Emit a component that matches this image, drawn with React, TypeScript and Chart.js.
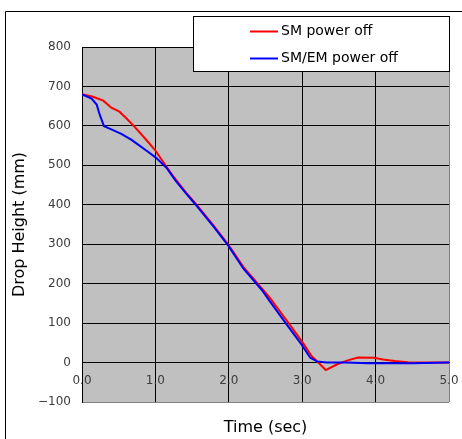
import React, { useEffect, useRef } from "react";
import { Chart, registerables } from "chart.js";

Chart.register(...registerables);

const SM_TIME = [0, 0.15, 0.29, 0.4, 0.51, 0.6, 0.72, 0.85, 0.99, 1.13, 1.26, 1.42, 1.54, 1.79, 1.99, 2.2, 2.45, 2.56, 2.83, 3.01, 3.13, 3.22, 3.32, 3.47, 3.61, 3.76, 3.98, 4.1, 4.26, 4.44, 4.6, 5.0];
const SM_HEIGHT = [680, 674, 664, 646, 636, 620, 597, 570, 540, 502, 468, 430, 405, 348, 300, 242, 188, 164, 96, 50, 16, 0, -19, -5, 5, 13, 12, 8, 4, 1, 0, 0];

const SMEM_TIME = [0, 0.13, 0.2, 0.24, 0.3, 0.4, 0.535, 0.67, 0.76, 0.88, 1.01, 1.15, 1.28, 1.42, 1.54, 1.79, 1.99, 2.2, 2.45, 2.56, 2.79, 2.99, 3.11, 3.2, 3.33, 3.6, 3.9, 4.5, 5.0];
const SMEM_HEIGHT = [680, 669, 654, 629, 599, 591, 580, 565, 553, 537, 519, 494, 460, 428, 402, 345, 297, 238, 184, 155, 96, 46, 12, 3, 0, 0, -2, -2, 0];

const SERIES_LABELS = ["SM power off", "SM/EM power off"];
const SERIES_COLORS = ["#FF0000", "#0000FF"];

const X_MIN = 0;
const X_MAX = 5;
const X_STEP = 1;
const Y_MIN = -100;
const Y_MAX = 800;
const Y_STEP = 100;

const X_TITLE = "Time (sec)";
const Y_TITLE = "Drop Height (mm)";

const FONT = "'DejaVu Sans', sans-serif";

const toPoints = (xs: number[], ys: number[]) => xs.map((x, i) => ({ x, y: ys[i] }));

const backgroundPlugin = {
  id: "bgFrame",
  beforeDraw(chart: any) {
    const { ctx, chartArea, width, height } = chart;
    ctx.save();
    ctx.fillStyle = "#FFFFFF";
    ctx.fillRect(0, 0, width, height);
    ctx.strokeStyle = "#000000";
    ctx.lineWidth = 1;
    ctx.beginPath();
    ctx.moveTo(5.5, height);
    ctx.lineTo(5.5, 11.5);
    ctx.lineTo(width, 11.5);
    ctx.stroke();
    ctx.fillStyle = "#C0C0C0";
    ctx.fillRect(chartArea.left, chartArea.top, chartArea.right - chartArea.left, chartArea.bottom - chartArea.top);
    ctx.restore();
  },
};

const legendPlugin = {
  id: "boxLegend",
  afterDraw(chart: any) {
    const { ctx } = chart;
    const ds = chart.data.datasets;
    ctx.save();
    ctx.fillStyle = "#FFFFFF";
    ctx.fillRect(193.5, 16.5, 256, 55);
    ctx.strokeStyle = "#000000";
    ctx.lineWidth = 1;
    ctx.strokeRect(193.5, 16.5, 256, 55);
    ctx.font = `14px ${FONT}`;
    ctx.textBaseline = "middle";
    ctx.textAlign = "left";
    ds.forEach((d: any, i: number) => {
      const y = 31.5 + i * 27;
      ctx.strokeStyle = d.borderColor;
      ctx.lineWidth = 2;
      ctx.beginPath();
      ctx.moveTo(250, y);
      ctx.lineTo(278, y);
      ctx.stroke();
      ctx.fillStyle = "#000000";
      ctx.fillText(d.label, 281, y);
    });
    ctx.restore();
  },
};

export default function App() {
  const canvasRef = useRef<HTMLCanvasElement | null>(null);

  useEffect(() => {
    if (!canvasRef.current) return;
    const chart = new Chart(canvasRef.current, {
      type: "line",
      data: {
        datasets: [
          {
            label: SERIES_LABELS[0],
            data: toPoints(SM_TIME, SM_HEIGHT),
            borderColor: SERIES_COLORS[0],
            backgroundColor: SERIES_COLORS[0],
            borderWidth: 2,
            pointRadius: 0,
            tension: 0,
            order: 1,
          },
          {
            label: SERIES_LABELS[1],
            data: toPoints(SMEM_TIME, SMEM_HEIGHT),
            borderColor: SERIES_COLORS[1],
            backgroundColor: SERIES_COLORS[1],
            borderWidth: 2,
            pointRadius: 0,
            tension: 0,
            order: 0,
          },
        ],
      },
      options: {
        animation: false,
        responsive: false,
        devicePixelRatio: 1,
        layout: { padding: { top: 47, right: 13, bottom: 0, left: 0 } },
        plugins: {
          legend: { display: false },
          tooltip: { enabled: false },
          title: {
            display: true,
            text: X_TITLE,
            position: "bottom",
            fullSize: false,
            color: "#000000",
            font: { family: FONT, size: 16, weight: "normal" },
            padding: { top: 16.4, bottom: 1.4 },
          },
        },
        scales: {
          x: {
            type: "linear",
            position: { y: 0 } as any,
            min: X_MIN,
            max: X_MAX,
            afterFit: (scale: any) => {
              scale.paddingLeft = 0;
              scale.paddingRight = 0;
            },
            ticks: {
              stepSize: X_STEP,
              padding: 11,
              color: "#3c3c3c",
              font: { family: FONT, size: 12 },
              callback: (v: any) => Number(v).toFixed(1),
            },
            grid: {
              drawTicks: false,
              color: (c: any) => (c.tick && c.tick.value === X_MAX ? "#808080" : "#000000"),
              lineWidth: 1,
            },
            border: { display: true, color: "#000000", width: 1 },
          },
          y: {
            type: "linear",
            position: "left",
            min: Y_MIN,
            max: Y_MAX,
            afterFit: (scale: any) => {
              scale.width = 82;
              scale.paddingTop = 0;
              scale.paddingBottom = 0;
            },
            ticks: {
              stepSize: Y_STEP,
              padding: 11,
              color: "#3c3c3c",
              font: { family: FONT, size: 12 },
              callback: (v: any) => (Number(v) < 0 ? "\u2212" + Math.abs(Number(v)) : String(v)),
            },
            grid: {
              drawTicks: false,
              color: (c: any) => (c.tick && c.tick.value === Y_MIN ? "#808080" : "#000000"),
              lineWidth: 1,
            },
            border: { display: true, color: "#000000", width: 1 },
            title: {
              display: true,
              text: Y_TITLE,
              color: "#000000",
              font: { family: FONT, size: 16 },
              padding: { top: 10.4, bottom: 0 },
            },
          },
        },
      },
      plugins: [backgroundPlugin, legendPlugin],
    } as any);
    return () => chart.destroy();
  }, []);

  return (
    <div style={{ position: "absolute", left: 0, top: 0, width: 462, height: 439 }}>
      <canvas ref={canvasRef} width={462} height={439} />
    </div>
  );
}
